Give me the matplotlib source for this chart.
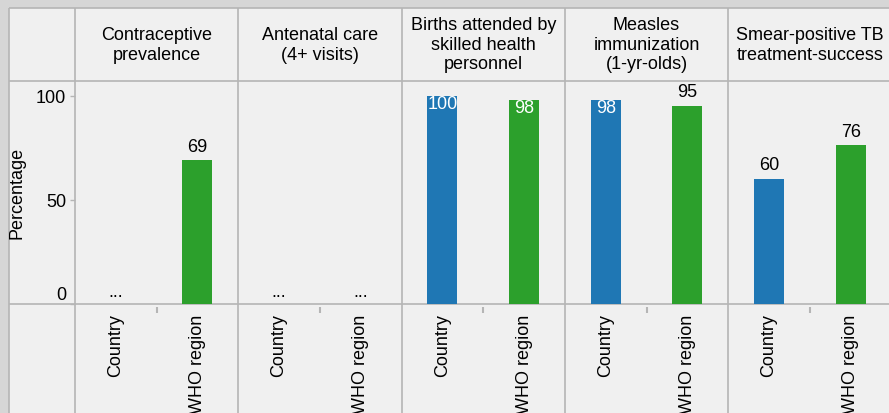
import matplotlib
matplotlib.use("Agg")
import matplotlib.pyplot as plt
from matplotlib.patches import Rectangle
import matplotlib.transforms as mtransforms

plt.rcParams['font.family'] = ['Liberation Sans', 'DejaVu Sans']

# ---- data ----
indicators = [
    "Contraceptive\nprevalence",
    "Antenatal care\n(4+ visits)",
    "Births attended by\nskilled health\npersonnel",
    "Measles\nimmunization\n(1-yr-olds)",
    "Smear-positive TB\ntreatment-success",
]
groups = ["Country", "WHO region"]
country = [None, None, 100, 98, 60]
who_region = [69, None, 98, 95, 76]
group_colors = ["#1f77b4", "#2ca02c"]
y_ticks = [0, 50, 100]
y_label = "Percentage"

# ---- layout (pixels) ----
W, H = 889, 414
DPI = 100
FS = 13
LINE_C = "#b5b5b5"
BG = "#f0f0f0"
OUTER = "#d6d6d6"
border = 8.5
panel_left = 75
panel_w = 163.3
top_y = 82
axis_y = 304.5
ymax = 107

fig = plt.figure(figsize=(W / DPI, H / DPI), dpi=DPI, facecolor=OUTER)

bg = fig.add_axes([0, 0, 1, 1])
bg.set_xlim(0, W)
bg.set_ylim(H, 0)
bg.axis("off")
bg.add_patch(Rectangle((border, border), W, H, facecolor=BG, edgecolor="none", zorder=0))
lw = 1.2
for y in [border, top_y, axis_y]:
    bg.plot([border, W], [y, y], color=LINE_C, lw=lw, zorder=1, solid_capstyle="butt")
n = len(indicators)
for k in range(n + 1):
    x = panel_left + k * panel_w
    bg.plot([x, x], [border, H], color=LINE_C, lw=lw, zorder=1, solid_capstyle="butt")
bg.plot([border, border], [border, H], color=LINE_C, lw=lw, zorder=1, solid_capstyle="butt")

bg.text(17.5, 193, y_label, rotation=90, ha="center", va="center", fontsize=FS, color="black")

px2pt = 72 / DPI

for i, ind in enumerate(indicators):
    L = panel_left + i * panel_w
    ax = fig.add_axes([L / W, 1 - axis_y / H, panel_w / W, (axis_y - top_y) / H])
    ax.set_facecolor("none")
    for s in ax.spines.values():
        s.set_visible(False)
    ax.set_xlim(-0.5, 1.5)
    ax.set_ylim(0, ymax)
    vals = [country[i], who_region[i]]
    for j, v in enumerate(vals):
        if v is None:
            ax.annotate("...", (j, 0), xytext=(0, 12 * px2pt), textcoords="offset points",
                        ha="center", va="center", fontsize=FS, color="black")
            continue
        ax.bar(j, v, width=0.368, color=group_colors[j], zorder=2)
        if v > 96:
            ax.annotate(str(v), (j, v), xytext=(0, -7.5 * px2pt), textcoords="offset points",
                        ha="center", va="center", fontsize=FS, color="white", zorder=3)
        else:
            ax.annotate(str(v), (j, v), xytext=(0, 14 * px2pt), textcoords="offset points",
                        ha="center", va="center", fontsize=FS, color="black", zorder=3)
    ax.set_xticks([0, 1])
    ax.set_xticklabels(groups, rotation=90, va="top", ha="center", fontsize=FS)
    ax.tick_params(axis="x", length=0, pad=10 * px2pt)
    trans = mtransforms.blended_transform_factory(ax.transData, ax.transAxes)
    h_ax = axis_y - top_y
    ax.plot([0.5, 0.5], [-3.5 / h_ax, -9.5 / h_ax], transform=trans, color=LINE_C,
            lw=1.5, clip_on=False, solid_capstyle="butt")
    if i == 0:
        ax.set_yticks(y_ticks)
        ax.set_yticklabels([str(t) for t in y_ticks], fontsize=FS)
        ax.tick_params(axis="y", length=5 * px2pt, width=1, color=LINE_C, pad=4 * px2pt)
        ax.get_yticklabels()[0].set_va("bottom")
    else:
        ax.set_yticks([])
    cx = L + panel_w / 2
    bg.text(cx, (border + top_y) / 2, ind, ha="center", va="center", fontsize=FS,
            color="black", linespacing=1.2)

fig.savefig("out.png", dpi=DPI, facecolor=OUTER)
